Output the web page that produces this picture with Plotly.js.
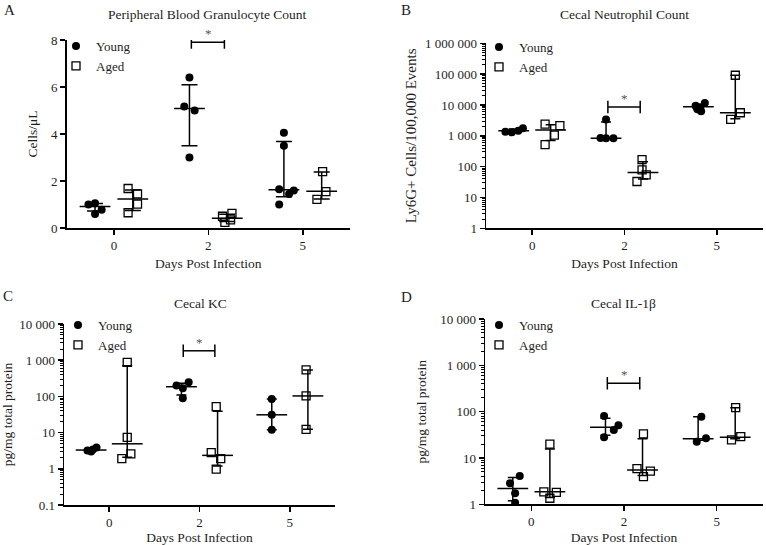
<!DOCTYPE html>
<html><head><meta charset="utf-8">
<script src="https://cdn.plot.ly/plotly-3.0.1.min.js"></script>
<style>html,body{margin:0;padding:0;background:#fff}#chart{width:766px;height:545px}</style>
</head><body><div id="chart"></div>
<script>
// ---------- DATA ----------
const days = ["0", "2", "5"];
const groupNames = ["Young", "Aged"];
const panelLetters = ["A", "B", "C", "D"];
const panelTitles = ["Peripheral Blood Granulocyte Count", "Cecal Neutrophil Count", "Cecal KC", "Cecal IL-1β"];
const yTitles = ["Cells/μL", "Ly6G+ Cells/100,000 Events", "pg/mg total protein", "pg/mg total protein"];
const xTitle = "Days Post Infection";

// A: Peripheral blood granulocytes (cells/µL)
const A_young = [[1.0, 1.05, 0.78, 0.6], [6.4, 5.17, 5.0, 3.0], [4.05, 3.5, 1.65, 1.45, 1.6, 1.0]];
const A_aged = [[1.68, 1.45, 1.02, 0.65], [0.5, 0.62, 0.35, 0.24], [2.4, 1.55, 1.22]];
const A_young_med = [0.92, 5.08, 1.63], A_young_q1 = [0.72, 3.5, 1.33], A_young_q3 = [1.04, 6.1, 3.68];
const A_aged_med = [1.23, 0.42, 1.56], A_aged_q1 = [0.74, 0.28, 1.23], A_aged_q3 = [1.62, 0.58, 2.38];

// B: Cecal neutrophils
const B_young = [[1350, 1300, 1450, 1750], [3400, 850, 830, 830], [11500, 9500, 8500, 7200, 6300]];
const B_aged = [[2400, 2150, 1050, 520], [170, 78, 54, 33], [92000, 5600, 3400]];
const B_young_med = [1450, 840, 8800], B_young_q1 = [1320, 830, 7000], B_young_q3 = [1650, 2800, 10000];
const B_aged_med = [1550, 64, 5600], B_aged_q1 = [700, 40, 3600], B_aged_q3 = [2300, 145, 92000];

// C: Cecal KC
const C_young = [[3.2, 3.0, 3.9, 3.4], [200, 245, 167, 89], [85, 31, 12]];
const C_aged = [[870, 7.4, 2.6, 1.9], [52, 2.8, 1.9, 0.98], [540, 103, 12.3]];
const C_young_med = [3.3, 185, 31], C_young_q1 = [3.05, 110, 12], C_young_q3 = [3.7, 230, 85];
const C_aged_med = [4.9, 2.35, 103], C_aged_q1 = [2.1, 1.2, 12.3], C_aged_q3 = [700, 39, 540];

// D: Cecal IL-1β
const D_young = [[4.1, 2.84, 1.73, 1.08], [81, 51, 40, 28], [78, 22.5, 26.7]];
const D_aged = [[20, 1.85, 1.8, 1.35], [33, 5.9, 5.2, 3.95], [122, 24.5, 29]];
const D_young_med = [2.2, 46, 26], D_young_q1 = [1.2, 31, 24], D_young_q3 = [3.8, 72, 78];
const D_aged_med = [1.87, 5.5, 28], D_aged_q1 = [1.4, 4.2, 26], D_aged_q3 = [15.6, 26, 122];

// significance bracket (day 2) heights
const sigDay = "2";
const sigLevels = [7.9, 8600, 1820, 410];

// ---------- LAYOUT / STYLE ----------
const FONT = "Liberation Serif, Times New Roman, serif";
const INK = "#1e1e1e";
const GROUP_SHIFT = [-0.2, 0.2];
// horizontal scatter of points inside each group (category units)
const JITTER = {
  A: [[[-0.07, 0, 0.07, 0], [0, -0.055, 0.055, 0], [0, 0, -0.05, 0.055, 0.105, -0.05]],
      [[-0.05, 0.05, 0.05, -0.05], [-0.05, 0.05, 0.035, -0.025], [0.01, 0.045, -0.05]]],
  B: [[[-0.09, -0.02, 0.05, 0.1], [0, -0.06, 0, 0.08], [0.07, -0.03, 0.02, -0.01, 0.03]],
      [[-0.06, 0.1, 0.04, -0.06], [-0.01, -0.01, 0.035, -0.065], [0, 0.055, -0.05]]],
  C: [[[-0.04, 0, 0.06, 0.02], [-0.055, 0.08, 0.015, 0.015], [0, 0, 0]],
      [[0, 0, 0.04, -0.06], [-0.015, -0.07, 0.035, -0.015], [-0.02, -0.02, -0.02]]],
  D: [[[0.075, -0.03, 0.025, 0.025], [-0.015, 0.14, 0.09, -0.015], [0.035, -0.015, 0.085]],
      [[0, -0.065, 0.07, 0], [0.01, -0.06, 0.085, 0.01], [0.005, -0.04, 0.06]]]
};
const CAPW = [8, 5, 5, 5];

const panels = [
  {young: A_young, aged: A_aged, ym: A_young_med, yq1: A_young_q1, yq3: A_young_q3, am: A_aged_med, aq1: A_aged_q1, aq3: A_aged_q3},
  {young: B_young, aged: B_aged, ym: B_young_med, yq1: B_young_q1, yq3: B_young_q3, am: B_aged_med, aq1: B_aged_q1, aq3: B_aged_q3},
  {young: C_young, aged: C_aged, ym: C_young_med, yq1: C_young_q1, yq3: C_young_q3, am: C_aged_med, aq1: C_aged_q1, aq3: C_aged_q3},
  {young: D_young, aged: D_aged, ym: D_young_med, yq1: D_young_q1, yq3: D_young_q3, am: D_aged_med, aq1: D_aged_q1, aq3: D_aged_q3}
];

const markerStyles = [
  {symbol: "circle", size: 8, color: "#000", line: {width: 0}},
  {symbol: "square-open", size: 8, color: "#000", line: {width: 1.3}}
];

const traces = [];
const sigAnnots = [];
panels.forEach((p, k) => {
  const sfx = k === 0 ? "" : String(k + 1);
  const xa = "x" + sfx, ya = "y" + sfx;
  const legendId = "legend" + sfx;
  const letter = panelLetters[k];
  const isLog = k > 0;
  [[p.young, p.ym, p.yq1, p.yq3], [p.aged, p.am, p.aq1, p.aq3]].forEach((g, gi) => {
    const pts = g[0];
    const xs = [], ys = [];
    pts.forEach((vals, di) => {
      vals.forEach((v, j) => {
        xs.push(di + GROUP_SHIFT[gi] + JITTER[letter][gi][di][j]);
        ys.push(v);
      });
    });
    if (gi === 1) {
      traces.push({type: "scatter", mode: "markers", x: xs, y: ys, xaxis: xa, yaxis: ya,
        showlegend: false, hoverinfo: "skip",
        marker: {symbol: "square", size: 8, color: "#fff", line: {width: 0}}});
    }
    traces.push({type: "scatter", mode: "markers", name: groupNames[gi], x: xs, y: ys,
      xaxis: xa, yaxis: ya, legend: legendId, showlegend: true,
      marker: markerStyles[gi]});
  });
  // medians with interquartile range
  [[p.ym, p.yq1, p.yq3], [p.am, p.aq1, p.aq3]].forEach((s, gi) => {
    const med = s[0], lo = s[1], hi = s[2];
    traces.push({type: "scatter", mode: "markers", x: days.map((d, i) => i + GROUP_SHIFT[gi]), y: med,
      xaxis: xa, yaxis: ya, showlegend: false, hoverinfo: "y",
      marker: {symbol: "line-ew", size: 22, color: "#000", line: {width: 1.5, color: "#000"}},
      error_y: {type: "data", symmetric: false, array: med.map((m, i) => hi[i] - m),
        arrayminus: med.map((m, i) => m - lo[i]), color: "#000", thickness: 1.5, width: CAPW[k]}});
  });
  // significance bracket
  const di = days.indexOf(sigDay);
  traces.push({type: "scatter", mode: "lines+markers", x: [di - 0.18, di + 0.17], y: [sigLevels[k], sigLevels[k]],
    xaxis: xa, yaxis: ya, showlegend: false, hoverinfo: "skip",
    line: {color: "#000", width: 1.5},
    marker: {symbol: "line-ns", size: 9, color: "#000", line: {width: 1.5, color: "#000"}}});
  sigAnnots.push({xref: xa, yref: ya, x: di, y: isLog ? Math.log10(sigLevels[k]) : sigLevels[k],
    text: "*", showarrow: false, yanchor: "bottom", yshift: -1, font: {family: FONT, size: 13, color: "#555"}});
});

function minorLogTicks(range) {
  const out = [];
  for (let e = range[0]; e < range[1]; e++) {
    for (let m = 2; m <= 9; m++) out.push(m * Math.pow(10, e));
  }
  return out;
}

function xAxis(domain, anchor) {
  return {domain: domain, anchor: anchor, range: [-0.5, 2.5], tickvals: days.map((d, i) => i), ticktext: days,
    showline: true, linecolor: "#000", linewidth: 1.5, ticks: "outside", ticklen: 5, tickwidth: 1.5, tickcolor: "#000",
    showgrid: false, zeroline: false, tickfont: {family: FONT, size: 13, color: INK},
    title: {text: xTitle, font: {family: FONT, size: 13.5, color: INK}, standoff: 6}};
}
function yAxis(domain, anchor, title, isLog, range, standoff, tsize) {
  const ax = {domain: domain, anchor: anchor, showline: true, linecolor: "#000", linewidth: 1.5,
    ticks: "outside", ticklen: 5, tickwidth: 1.5, tickcolor: "#000", showgrid: false, zeroline: false,
    tickfont: {family: FONT, size: 13, color: INK},
    title: {text: title, font: {family: FONT, size: tsize, color: INK}, standoff: standoff}};
  if (isLog) {
    Object.assign(ax, {type: "log", range: range, dtick: 1, tick0: 0, tickformat: ",~f",
      minor: {ticks: "outside", ticklen: 3, tickwidth: 1, tickcolor: "#000", tickmode: "array",
        tickvals: minorLogTicks(range), showgrid: false}});
  } else {
    Object.assign(ax, {range: range, dtick: 2, tick0: 0});
  }
  return ax;
}

function legendAt(x, y) {
  return {x: x, y: y, xanchor: "left", yanchor: "top", bgcolor: "rgba(0,0,0,0)", borderwidth: 0,
    font: {family: FONT, size: 13, color: INK}, itemwidth: 30, tracegroupgap: 0};
}

const W = 766, H = 545;
const px = v => v / W, py = v => 1 - v / H;

const layout = {
  width: W, height: H, margin: {l: 0, r: 0, t: 0, b: 0},
  paper_bgcolor: "#fff", plot_bgcolor: "#fff", separators: ". ",
  font: {family: FONT, color: INK},
  showlegend: true,
  xaxis: xAxis([px(66.7), px(350)], "y"),
  yaxis: yAxis([py(228), py(40)], "x", yTitles[0], false, [0, 8], 10, 13.5),
  xaxis2: xAxis([px(486), px(763)], "y2"),
  yaxis2: yAxis([py(228.3), py(43.3)], "x2", yTitles[1], true, [0, 6], 4, 15),
  xaxis3: xAxis([px(64), px(335)], "y3"),
  yaxis3: yAxis([py(505), py(324)], "x3", yTitles[2], true, [-1, 4], 5, 13.5),
  xaxis4: xAxis([px(485), px(763)], "y4"),
  yaxis4: yAxis([py(504.3), py(319)], "x4", yTitles[3], true, [0, 4], 10, 13.5),
  legend: legendAt(px(56), py(31)),
  legend2: legendAt(px(479), py(32)),
  legend3: legendAt(px(58), py(310)),
  legend4: legendAt(px(479), py(310)),
  annotations: [
    {xref: "paper", yref: "paper", x: px(207), y: py(14.7), text: panelTitles[0], showarrow: false, xanchor: "center", yanchor: "middle", font: {family: FONT, size: 13.5, color: INK}},
    {xref: "paper", yref: "paper", x: px(624), y: py(14.7), text: panelTitles[1], showarrow: false, xanchor: "center", yanchor: "middle", font: {family: FONT, size: 13.5, color: INK}},
    {xref: "paper", yref: "paper", x: px(200), y: py(303.3), text: panelTitles[2], showarrow: false, xanchor: "center", yanchor: "middle", font: {family: FONT, size: 13.5, color: INK}},
    {xref: "paper", yref: "paper", x: px(623), y: py(303.3), text: panelTitles[3], showarrow: false, xanchor: "center", yanchor: "middle", font: {family: FONT, size: 13.5, color: INK}},
    {xref: "paper", yref: "paper", x: px(2), y: py(10), text: panelLetters[0], showarrow: false, xanchor: "left", yanchor: "middle", font: {family: FONT, size: 15, color: INK}},
    {xref: "paper", yref: "paper", x: px(399), y: py(10), text: panelLetters[1], showarrow: false, xanchor: "left", yanchor: "middle", font: {family: FONT, size: 15, color: INK}},
    {xref: "paper", yref: "paper", x: px(1), y: py(296), text: panelLetters[2], showarrow: false, xanchor: "left", yanchor: "middle", font: {family: FONT, size: 15, color: INK}},
    {xref: "paper", yref: "paper", x: px(399), y: py(297), text: panelLetters[3], showarrow: false, xanchor: "left", yanchor: "middle", font: {family: FONT, size: 15, color: INK}}
  ].concat(sigAnnots)
};

Plotly.newPlot("chart", traces, layout, {displayModeBar: false, staticPlot: true});
</script></body></html>
